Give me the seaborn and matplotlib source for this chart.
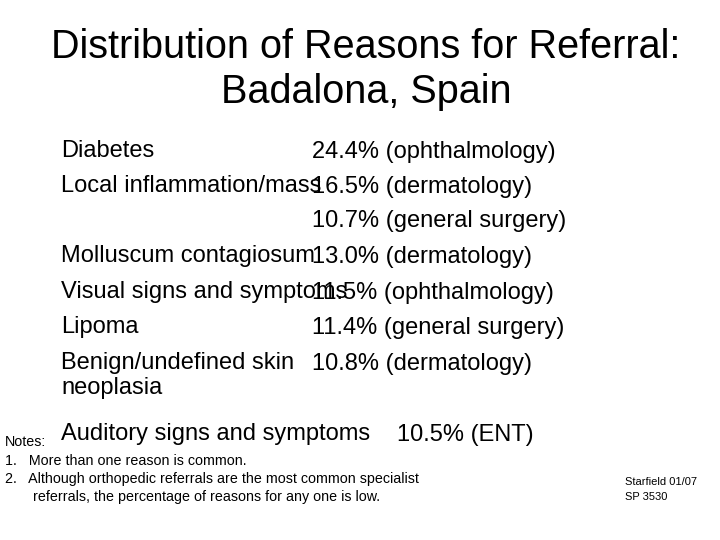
import matplotlib
matplotlib.use("Agg")
import matplotlib.pyplot as plt
import seaborn as sns

sns.set_style("white")
plt.rcParams['font.family'] = ['Liberation Sans', 'DejaVu Sans']

title_lines = ["Distribution of Reasons for Referral:", "Badalona, Spain"]
reasons = ["Diabetes", "Local inflammation/mass", "", "Molluscum contagiosum",
           "Visual signs and symptoms", "Lipoma",
           "Benign/undefined skin\nneoplasia", "Auditory signs and symptoms"]
percents = [24.4, 16.5, 10.7, 13.0, 11.5, 11.4, 10.8, 10.5]
specialties = ["ophthalmology", "dermatology", "general surgery", "dermatology",
               "ophthalmology", "general surgery", "dermatology", "ENT"]
row_y = [152, 187, 221, 257, 293, 328, 364, 435]
right_x = [312, 312, 312, 312, 312, 312, 312, 397]
notes = ["Notes:", "1.   More than one reason is common.",
         "2.   Although orthopedic referrals are the most common specialist",
         "       referrals, the percentage of reasons for any one is low."]
source = ["Starfield 01/07", "SP 3530"]

W, H = 720, 540
fig = plt.figure(figsize=(7.2, 5.4), dpi=100)
ax = fig.add_axes([0, 0, 1, 1])
ax.set_xlim(0, W); ax.set_ylim(H, 0); ax.axis("off")

for t, y in zip(title_lines, [47, 92]):
    ax.text(366, y, t, ha="center", va="center", fontsize=28.5, color="black")

for r, p, s, y, x in zip(reasons, percents, specialties, row_y, right_x):
    ax.text(61, y - 12, r, ha="left", va="top", fontsize=17, color="black",
            linespacing=1.2)
    ax.text(x, y, f"{p:.1f}% ({s})", ha="left", va="center", fontsize=17,
            color="black")

for t, y in zip(notes, [442, 461, 479, 497]):
    ax.text(5, y, t, ha="left", va="center", fontsize=10.3, color="black")
for t, y in zip(source, [482, 497]):
    ax.text(625, y, t, ha="left", va="center", fontsize=8, color="black")

fig.savefig("out.png", dpi=100)
